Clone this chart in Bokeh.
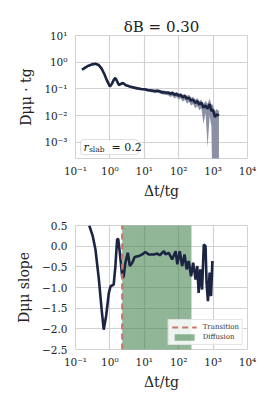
from bokeh.plotting import figure
from bokeh.layouts import column
from bokeh.models import (FixedTicker, CustomJSTickFormatter, Range1d, Label,
                          BoxAnnotation, Legend)
from bokeh.embed import file_html
from bokeh.resources import INLINE

# ---------------- data ----------------
title_text = "δB = 0.30"
slab_r = "0.2"

x_ticks = [0.1, 1, 10, 100, 1000, 10000]
x_tick_labels = ["10⁻¹", "10⁰", "10¹", "10²", "10³", "10⁴"]
y1_ticks = [0.001, 0.01, 0.1, 1, 10]
y1_tick_labels = ["10⁻³", "10⁻²", "10⁻¹", "10⁰", "10¹"]
y2_ticks = [-2.5, -2.0, -1.5, -1.0, -0.5, 0.0, 0.5]
y2_tick_labels = ["−2.5", "−2.0", "−1.5", "−1.0", "−0.5", "0.0", "0.5"]

# top panel: D_mumu * t_g with band
t_top = [0.155, 0.191, 0.240, 0.302, 0.380, 0.468, 0.575, 0.692, 0.832, 1.0,
         1.148, 1.318, 1.445, 1.622, 1.820, 2.042, 2.291, 2.570, 2.884, 3.311,
         3.981, 5.012, 6.310, 7.943, 10.0, 12.59, 15.85, 19.95, 25.12, 31.62,
         39.81, 50.12, 57.54, 66.07, 75.86, 87.10, 100.0, 114.8, 131.8, 151.4,
         173.8, 199.5, 229.1, 263.0, 302.0, 346.7, 398.1, 457.1, 524.8, 602.6,
         691.8, 794.3, 891.3, 1000.0, 1122.0, 1259.0, 1479.0]
D_mean = [0.525, 0.631, 0.741, 0.832, 0.871, 0.794, 0.575, 0.355, 0.200, 0.123,
          0.158, 0.229, 0.257, 0.191, 0.141, 0.151, 0.166, 0.158, 0.138, 0.132,
          0.120, 0.112, 0.105, 0.100, 0.0977, 0.0912, 0.0871, 0.0832, 0.0851, 0.0759,
          0.0741, 0.0724, 0.0661, 0.0708, 0.0603, 0.0646, 0.0562, 0.0589, 0.0490, 0.0537,
          0.0437, 0.0468, 0.0363, 0.0398, 0.0302, 0.0347, 0.0263, 0.0302, 0.0200, 0.0240,
          0.0182, 0.0275, 0.0151, 0.0166, 0.00891, 0.0112, 0.0100]
D_lo = [0.479, 0.575, 0.676, 0.759, 0.794, 0.724, 0.525, 0.324, 0.182, 0.112,
        0.145, 0.209, 0.234, 0.174, 0.129, 0.138, 0.151, 0.145, 0.126, 0.120,
        0.110, 0.102, 0.0955, 0.0891, 0.0871, 0.0794, 0.0759, 0.0708, 0.0724, 0.0631,
        0.0603, 0.0575, 0.0501, 0.0550, 0.0437, 0.0501, 0.0398, 0.0447, 0.0331, 0.0398,
        0.0282, 0.0331, 0.0240, 0.0275, 0.0191, 0.0229, 0.0158, 0.0191, 0.0049, 0.0126,
        0.00066, 0.0100, 0.0040, 1e-6, 1e-6, 1e-6, 1e-6]
D_hi = [0.575, 0.692, 0.813, 0.912, 0.955, 0.871, 0.631, 0.389, 0.219, 0.135,
        0.174, 0.251, 0.282, 0.209, 0.155, 0.166, 0.182, 0.174, 0.151, 0.145,
        0.132, 0.123, 0.115, 0.110, 0.107, 0.102, 0.0977, 0.0933, 0.0955, 0.0871,
        0.0851, 0.0832, 0.0776, 0.0832, 0.0724, 0.0776, 0.0676, 0.0708, 0.0603, 0.0661,
        0.0550, 0.0603, 0.0468, 0.0513, 0.0398, 0.0457, 0.0355, 0.0398, 0.0282, 0.0355,
        0.0282, 0.0427, 0.0263, 0.0251, 0.0141, 0.0178, 0.0151]

# bottom panel: slope
t_slope = [0.251, 0.316, 0.380, 0.479, 0.575, 0.661, 0.776, 0.933, 1.047, 1.288,
           1.445, 1.622, 1.738, 1.950, 2.291, 2.512, 2.818, 3.311, 3.802, 4.467,
           5.248, 6.918, 8.710, 10.72, 13.49, 19.05, 23.71, 28.18, 37.15, 41.69,
           51.29, 64.57, 81.28, 91.20, 107.2, 125.9, 147.9, 169.8, 195.0, 229.1,
           263.0, 309.0, 346.7, 380.2, 426.6, 478.6, 537.0, 602.6, 645.7, 707.9,
           794.3, 871.0, 955.0]
slope = [0.50, 0.25, -0.08, -0.81, -1.53, -2.02, -1.69, -1.13, -0.97, -0.93,
         -0.48, 0.16, 0.18, -0.16, -0.77, -0.73, -0.40, -0.16, -0.48, -0.40,
         -0.26, -0.24, -0.20, -0.14, -0.20, -0.20, -0.18, -0.22, -0.12, -0.20,
         -0.16, -0.32, -0.12, -0.44, -0.12, -0.48, -0.20, -0.56, -0.36, -0.73,
         -0.40, -0.81, -0.48, -1.13, -0.56, -1.05, 0.04, 0.00, -0.89, -1.33,
         -0.64, -1.21, -0.36]
t_transition = 2.28
t_diffusion_end = 235.0

# ---------------- style ----------------
FONT = "DejaVu Serif"
NAVY = "#1b2440"
BAND = "#8a91a5"
GRID = "#d2d2d2"
GREEN = "#3b7d48"
RED = "#c9766b"

def tick_fmt(tvals, tlabels):
    return CustomJSTickFormatter(args=dict(tvals=tvals, tlabels=tlabels), code="""
        for (let i = 0; i < tvals.length; i++) {
            if (Math.abs(tvals[i] - tick) <= 1e-9 * Math.max(1, Math.abs(tick))) return tlabels[i];
        }
        return "";
    """)

def style(p):
    p.background_fill_color = "white"
    p.border_fill_color = "white"
    p.outline_line_color = GRID
    p.outline_line_width = 1
    for ax in (p.xaxis[0], p.yaxis[0]):
        ax.axis_line_color = None
        ax.major_tick_line_color = None
        ax.minor_tick_line_color = None
        ax.major_tick_out = 0
        ax.major_tick_in = 0
        ax.minor_tick_out = 0
        ax.minor_tick_in = 0
        ax.major_label_text_font = FONT
        ax.major_label_text_font_size = "10.5px"
        ax.major_label_text_color = "#222222"
        ax.axis_label_text_font = FONT
        ax.axis_label_text_font_size = "14px"
        ax.axis_label_text_font_style = "normal"
        ax.axis_label_text_color = "#222222"
    p.xaxis.major_label_standoff = 6
    p.xaxis.axis_label_standoff = 3
    p.yaxis.major_label_standoff = 8
    p.yaxis.axis_label_standoff = 7
    p.xgrid.grid_line_color = GRID
    p.ygrid.grid_line_color = GRID
    p.xgrid.grid_line_width = 1.2
    p.ygrid.grid_line_width = 1.2

# ---------------- top figure ----------------
p1 = figure(x_axis_type="log", y_axis_type="log", output_backend="svg",
            toolbar_location=None, frame_width=172, frame_height=123,
            min_border_left=75, min_border_right=25, min_border_top=35,
            min_border_bottom=44,
            x_range=Range1d(0.1, 10000), y_range=Range1d(2.5e-4, 10))
p1.title.text = title_text
p1.title.align = "center"
p1.title.text_font = FONT
p1.title.text_font_size = "15px"
p1.title.text_font_style = "normal"
p1.title.text_color = "#222222"
p1.title.offset = 0
p1.title.standoff = 0
style(p1)
p1.xaxis.ticker = FixedTicker(ticks=x_ticks)
p1.xaxis.formatter = tick_fmt(x_ticks, x_tick_labels)
p1.yaxis.ticker = FixedTicker(ticks=y1_ticks)
p1.yaxis.formatter = tick_fmt(y1_ticks, y1_tick_labels)
p1.xaxis.axis_label = "Δt/tg"
p1.yaxis.axis_label = "Dμμ · tg"

p1.varea(x=t_top, y1=D_lo, y2=D_hi, fill_color=BAND, fill_alpha=1.0)
p1.line(x=t_top, y=D_mean, line_color=NAVY, line_width=2.6)

# r_slab box
p1.add_layout(BoxAnnotation(left=0.14, right=6.78, bottom=3.49e-4, top=1.27e-3,
                            fill_color="white", fill_alpha=0.9,
                            line_color="#8a8a8a", line_width=1, border_radius=3))
p1.add_layout(Label(x=0.171, y=6.67e-4, text="r", text_font=FONT,
                    text_font_style="italic", text_font_size="11px",
                    text_baseline="middle", text_color="#222222"))
p1.add_layout(Label(x=0.247, y=5.37e-4, text="slab", text_font=FONT,
                    text_font_size="7.5px", text_baseline="middle",
                    text_color="#222222"))
p1.add_layout(Label(x=1.11, y=6.67e-4, text="= " + slab_r, text_font=FONT,
                    text_font_size="11px", text_baseline="middle",
                    text_color="#222222"))

# ---------------- bottom figure ----------------
p2 = figure(x_axis_type="log", output_backend="svg",
            toolbar_location=None, frame_width=172, frame_height=124,
            min_border_left=75, min_border_right=25, min_border_top=23,
            min_border_bottom=44,
            x_range=Range1d(0.1, 10000), y_range=Range1d(-2.5, 0.5))
style(p2)
p2.xaxis.ticker = FixedTicker(ticks=x_ticks)
p2.xaxis.formatter = tick_fmt(x_ticks, x_tick_labels)
p2.yaxis.ticker = FixedTicker(ticks=y2_ticks)
p2.yaxis.formatter = tick_fmt(y2_ticks, y2_tick_labels)
p2.xaxis.axis_label = "Δt/tg"
p2.yaxis.axis_label = "Dμμ slope"

r_diff = p2.quad(left=[t_transition], right=[t_diffusion_end], bottom=[-10], top=[10],
                 fill_color=GREEN, fill_alpha=0.57, line_color=None)
p2.line(x=t_slope, y=slope, line_color=NAVY, line_width=2.6)
r_trans = p2.segment(x0=[t_transition], y0=[-10], x1=[t_transition], y1=[10],
                     line_color=RED, line_width=2.2, line_dash="6 4")

legend = Legend(items=[("Transition", [r_trans]), ("Diffusion", [r_diff])],
                location="bottom_right")
legend.label_text_font = FONT
legend.label_text_font_size = "7px"
legend.label_text_color = "#333333"
legend.glyph_width = 25
legend.glyph_height = 8
legend.label_height = 8
legend.spacing = 2
legend.padding = 3
legend.margin = 4
legend.label_standoff = 6
legend.border_line_color = "#cccccc"
legend.background_fill_alpha = 0.85
p2.add_layout(legend)

layout = column(p1, p2, spacing=0)
open("out.html", "w").write(file_html(layout, INLINE))
